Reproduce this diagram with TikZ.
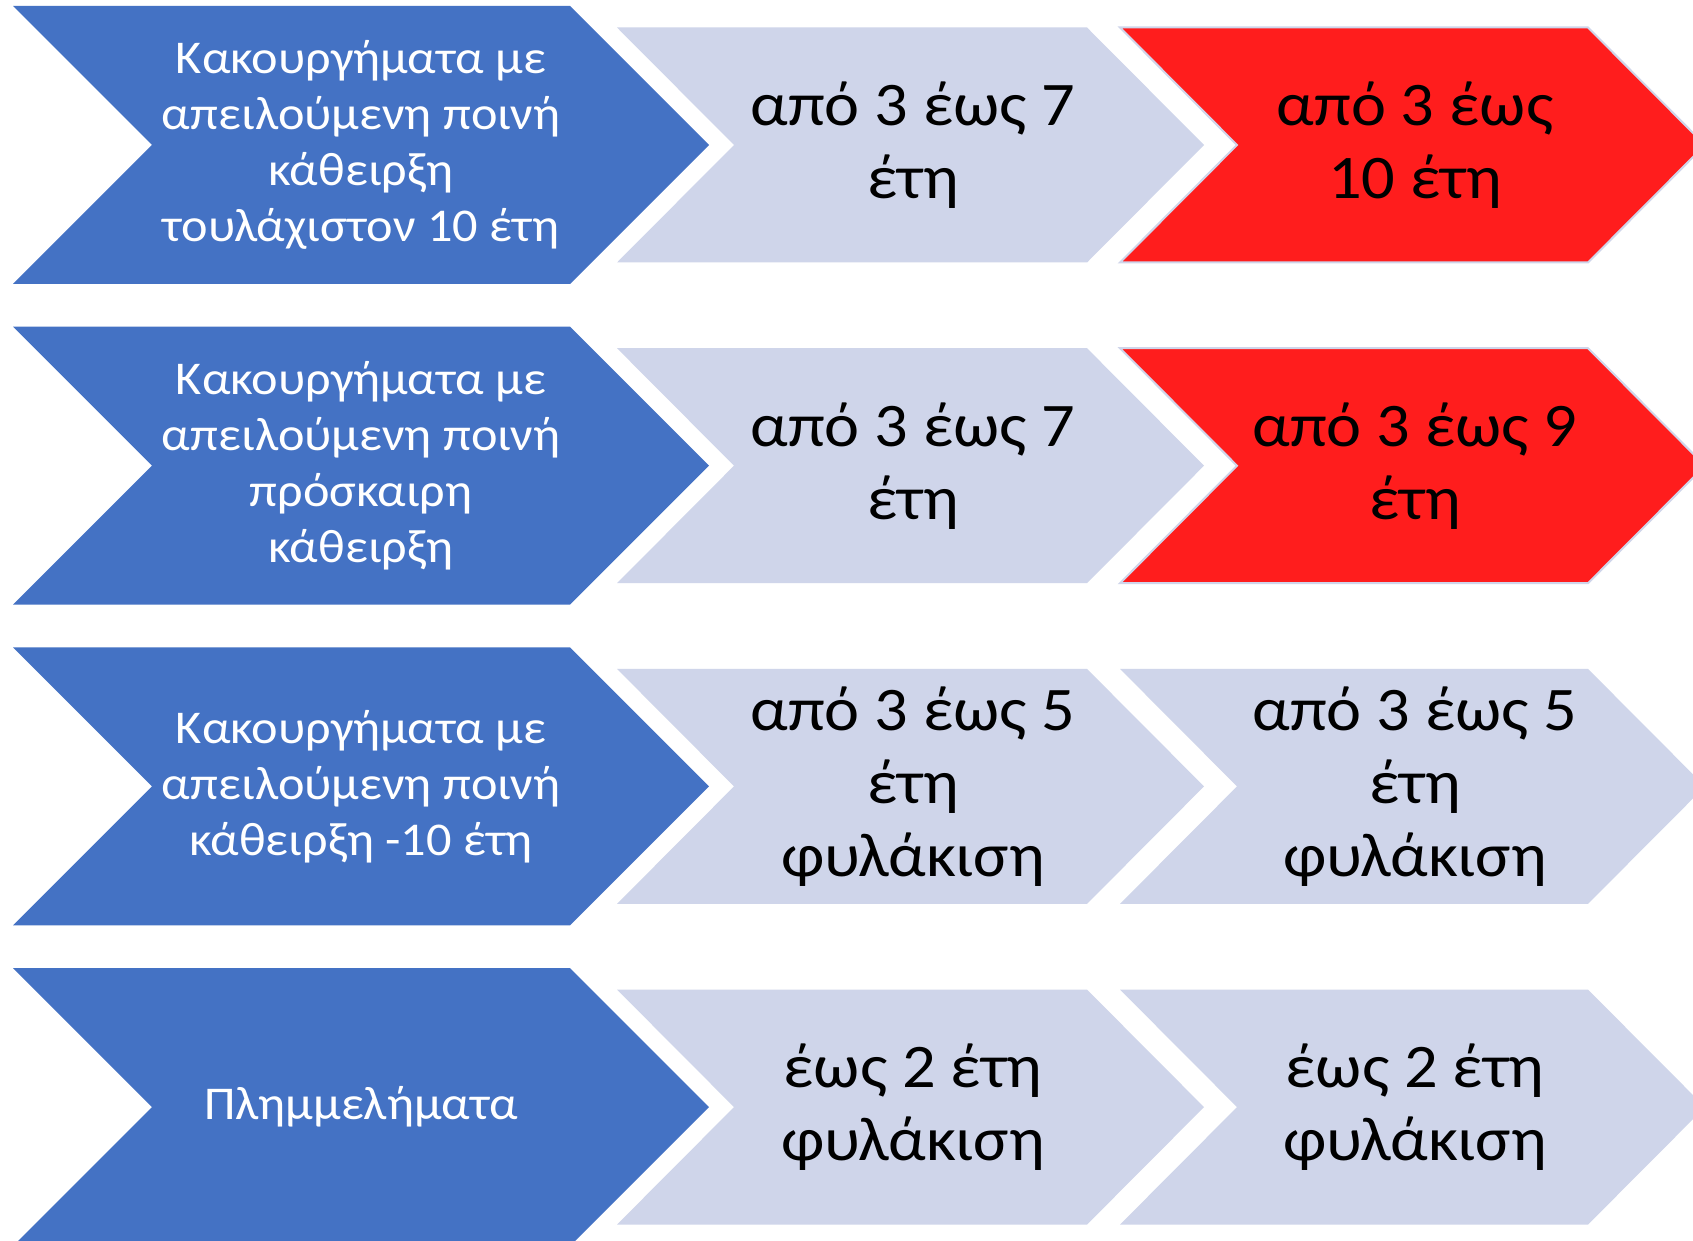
\documentclass[tikz,border=0pt]{standalone}
\usepackage{fontspec}
\setmainfont[FakeStretch=1.07]{Carlito}
\usepackage{tikz}
\definecolor{crimeblue}{HTML}{4472C4}
\definecolor{lavender}{HTML}{CFD5EA}
\definecolor{alarmred}{HTML}{FF1D1D}
\tikzset{
  bigtext/.style={align=center, text=white, font=\fontsize{23.5}{28}\selectfont},
  penaltytext/.style={align=center, text=black, font=\fontsize{31}{36.5}\selectfont}
}
% chevron: #1 left, #2 shoulder, #3 depth, #4 half height, #5 centre
\newcommand{\chevron}[5]{(#1,#5-#4) -- (#2,#5-#4) -- (#2+#3,#5) -- (#2,#5+#4) -- (#1,#5+#4) -- (#1+#3,#5) -- cycle}

\begin{document}
\begin{tikzpicture}[x=0.5pt, y=-0.5pt]
    \clip (0,0) rectangle (1693,1241);
    \fill[white] (0,0) rectangle (1693,1241);

    % Blue chevrons for the kinds of offence
    \foreach \c in {145, 465.7, 786.4, 1107.1}
        \fill[crimeblue] \chevron{13}{570}{139}{139}{\c};

    % Light chevrons in the middle column
    \foreach \c in {145, 465.7, 786.4, 1107.1}
        \fill[lavender] \chevron{617}{1087}{117}{117.5}{\c};

    % Right column: red for the first two rows
    \filldraw[fill=alarmred, draw=lavender, line width=1pt] \chevron{1120}{1588}{117}{117.5}{145};
    \filldraw[fill=alarmred, draw=lavender, line width=1pt] \chevron{1120}{1588}{117}{117.5}{465.7};
    \fill[lavender] \chevron{1120}{1588}{117}{117.5}{786.4};
    \fill[lavender] \chevron{1120}{1588}{117}{117.5}{1107.1};

    % Texts
    \node[bigtext] (crime1) at (361,145) {Κακουργήματα με\\απειλούμενη ποινή\\κάθειρξη\\τουλάχιστον 10 έτη};
    \node[bigtext] (crime2) at (361,465.7) {Κακουργήματα με\\απειλούμενη ποινή\\πρόσκαιρη\\κάθειρξη};
    \node[bigtext] (crime3) at (361,786.4) {Κακουργήματα με\\απειλούμενη ποινή\\κάθειρξη -10 έτη};
    \node[bigtext] (crime4) at (361,1107.1) {Πλημμελήματα};

    \node[penaltytext] (old1) at (913,145) {από 3 έως 7\\έτη};
    \node[penaltytext] (old2) at (913,465.7) {από 3 έως 7\\έτη};
    \node[penaltytext] (old3) at (913,786.4) {από 3 έως 5\\έτη\\φυλάκιση};
    \node[penaltytext] (old4) at (913,1107.1) {έως 2 έτη\\φυλάκιση};

    \node[penaltytext] (new1) at (1415,145) {από 3 έως\\10 έτη};
    \node[penaltytext] (new2) at (1415,465.7) {από 3 έως 9\\έτη};
    \node[penaltytext] (new3) at (1415,786.4) {από 3 έως 5\\έτη\\φυλάκιση};
    \node[penaltytext] (new4) at (1415,1107.1) {έως 2 έτη\\φυλάκιση};
\end{tikzpicture}
\end{document}
